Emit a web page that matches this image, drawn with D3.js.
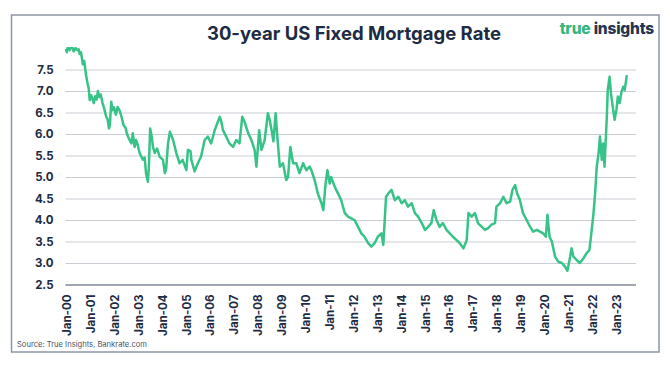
<!DOCTYPE html>
<html>
<head>
<meta charset="utf-8">
<script src="https://cdn.jsdelivr.net/npm/d3@7"></script>
<style>
  body { margin: 0; background: #fff; }
  svg { display: block; font-family: Inter, "Open Sans", sans-serif; }
</style>
</head>
<body>
<div id="chart"></div>
<script>
// readings of the 30-year fixed rate
var dates = [
  "2000-01-07","2000-01-21","2000-02-04","2000-03-03","2000-04-07","2000-05-05","2000-06-02","2000-06-30",
  "2000-07-21","2000-08-04","2000-08-25","2000-09-22","2000-10-13","2000-11-10","2000-12-01","2000-12-22",
  "2001-01-05","2001-01-26","2001-02-16","2001-03-09","2001-03-30","2001-04-20","2001-05-11","2001-06-01",
  "2001-06-22","2001-07-20","2001-08-10","2001-09-14","2001-10-05","2001-10-26","2001-11-09","2001-11-30",
  "2001-12-21","2002-01-11","2002-02-08","2002-03-08","2002-04-05","2002-05-03","2002-06-07","2002-07-05",
  "2002-08-02","2002-09-06","2002-10-04","2002-10-25","2002-11-22","2002-12-13","2003-01-03","2003-02-07",
  "2003-03-28","2003-04-25","2003-05-16","2003-06-13","2003-06-27","2003-07-18","2003-08-15","2003-08-29",
  "2003-09-26","2003-10-31","2003-12-12","2004-01-30","2004-02-27","2004-03-19","2004-04-16","2004-05-14",
  "2004-06-11","2004-07-02","2004-08-20","2004-10-08","2004-11-26","2005-01-21","2005-02-14","2005-03-25",
  "2005-04-08","2005-05-27","2005-07-15","2005-09-02","2005-10-28","2005-12-16","2006-02-03","2006-03-31",
  "2006-05-19","2006-06-16","2006-07-07","2006-08-04","2006-09-22","2006-11-10","2007-01-05","2007-02-23",
  "2007-04-13","2007-05-25","2007-06-29","2007-08-24","2007-10-12","2007-11-30","2007-12-28","2008-02-08",
  "2008-03-14","2008-05-02","2008-06-20","2008-07-18","2008-08-15","2008-09-12","2008-10-17","2008-11-07",
  "2008-12-19","2009-02-06","2009-03-27","2009-04-24","2009-05-29","2009-07-10","2009-08-28","2009-10-16",
  "2009-12-11","2010-01-29","2010-03-19","2010-04-16","2010-06-04","2010-07-23","2010-09-17","2010-10-15",
  "2010-11-19","2010-12-17","2011-01-21","2011-02-11","2011-04-08","2011-05-27","2011-07-15","2011-09-09",
  "2011-10-28","2011-12-16","2012-02-03","2012-03-30","2012-05-18","2012-07-06","2012-08-31","2012-10-19",
  "2012-12-07","2013-01-25","2013-03-22","2013-04-19","2013-05-31","2013-07-05","2013-08-23","2013-10-11",
  "2013-12-06","2014-01-24","2014-03-14","2014-05-02","2014-06-27","2014-08-15","2014-10-03","2014-11-28",
  "2015-01-16","2015-03-06","2015-04-24","2015-05-29","2015-07-10","2015-08-28","2015-10-16","2015-12-11",
  "2016-01-29","2016-03-18","2016-05-13","2016-07-01","2016-08-26","2016-10-14","2016-11-11","2016-12-30",
  "2017-02-17","2017-04-07","2017-05-26","2017-07-21","2017-09-08","2017-10-27","2017-12-22","2018-01-12",
  "2018-03-09","2018-04-27","2018-06-15","2018-08-10","2018-09-14","2018-10-26","2018-11-23","2019-01-04",
  "2019-02-22","2019-04-19","2019-06-07","2019-07-26","2019-09-20","2019-11-08","2019-12-27","2020-02-07",
  "2020-03-01","2020-04-03","2020-05-08","2020-06-26","2020-08-14","2020-10-09","2020-11-27","2021-01-01",
  "2021-02-12","2021-03-05","2021-04-02","2021-05-21","2021-07-09","2021-09-03","2021-10-22","2021-12-03",
  "2022-01-07","2022-02-04","2022-02-28","2022-03-25","2022-04-22","2022-05-13","2022-06-10","2022-07-01",
  "2022-07-22","2022-08-26","2022-09-09","2022-10-07","2022-10-28","2022-11-25","2022-12-23","2023-01-20",
  "2023-02-10","2023-03-10","2023-04-07","2023-05-05","2023-05-26","2023-06-28"
];
var rates = [
  7.98,7.90,8.02,7.95,8.05,7.92,8.00,7.95,
  7.97,7.86,7.90,7.62,7.70,7.37,7.19,7.05,
  6.79,6.90,6.82,6.72,6.88,6.80,7.00,6.86,
  6.92,6.72,6.62,6.40,6.35,6.13,6.20,6.75,
  6.55,6.62,6.45,6.63,6.55,6.42,6.20,6.15,
  5.98,5.86,5.78,6.02,5.70,5.86,5.78,5.56,
  5.40,5.45,5.09,4.89,5.20,6.13,5.90,5.70,
  5.56,5.66,5.47,5.40,5.09,5.20,5.78,6.05,
  5.95,5.86,5.56,5.32,5.40,5.16,5.63,5.60,
  5.40,5.13,5.32,5.47,5.86,5.94,5.78,6.09,
  6.29,6.40,6.30,6.09,5.94,5.78,5.70,5.86,
  5.78,6.40,6.29,6.02,5.86,5.63,5.24,6.09,
  5.63,5.86,6.48,6.33,6.09,5.83,6.48,6.02,
  5.24,5.32,4.93,5.00,5.70,5.32,5.32,5.09,
  5.32,5.16,5.24,5.16,4.93,4.62,4.39,4.23,
  4.85,5.16,4.85,5.00,4.77,4.62,4.46,4.16,
  4.08,4.04,4.00,3.84,3.69,3.61,3.46,3.38,
  3.46,3.61,3.69,3.42,4.54,4.62,4.70,4.46,
  4.54,4.39,4.46,4.31,4.39,4.16,4.08,3.93,
  3.77,3.84,3.93,4.23,4.00,3.84,3.93,3.77,
  3.69,3.61,3.53,3.46,3.34,3.53,4.16,4.08,
  4.16,3.92,3.85,3.77,3.81,3.89,3.93,4.31,
  4.39,4.54,4.39,4.43,4.70,4.81,4.62,4.47,
  4.16,4.00,3.85,3.73,3.77,3.73,3.69,3.61,
  4.12,3.61,3.50,3.15,3.03,3.00,2.91,2.82,
  3.15,3.34,3.15,3.07,3.00,3.11,3.23,3.30,
  3.77,4.16,4.62,5.24,5.55,5.94,5.40,5.78,
  5.24,6.40,7.02,7.33,6.95,6.63,6.33,6.56,
  6.87,6.72,6.98,7.10,7.02,7.37
];
var yTicks = [2.5, 3.0, 3.5, 4.0, 4.5, 5.0, 5.5, 6.0, 6.5, 7.0, 7.5];
var yearTicks = d3.range(2000, 2024);

var W = 670, H = 368;
var parse = d3.timeParse("%Y-%m-%d");
var data = dates.map(function (d, i) { return { date: parse(d), rate: rates[i] }; });

var svg = d3.select("#chart").append("svg")
    .attr("width", W)
    .attr("height", H);

svg.append("rect")
    .attr("x", 11.5).attr("y", 15)
    .attr("width", 647.5).attr("height", 337)
    .attr("fill", "#fff")
    .attr("stroke", "#8c96a6")
    .attr("stroke-width", 1.5);

var x = d3.scaleTime()
    .domain([new Date(2000, 0, 1), new Date(2023, 10, 15)])
    .range([65.5, 636]);

var y = d3.scaleLinear()
    .domain([2.5, 8])
    .range([284.5, 48]);

// gridlines + y labels
var yAxis = d3.axisLeft(y)
    .tickValues(yTicks)
    .tickSize(-(636 - 65.5))
    .tickPadding(12)
    .tickFormat(d3.format(".1f"));

var gy = svg.append("g")
    .attr("transform", "translate(65.5,0)")
    .call(yAxis);
gy.select(".domain").remove();
gy.selectAll(".tick line")
    .attr("stroke", function (d) { return d === 2.5 ? "#7f8998" : "#c9cdd4"; })
    .attr("stroke-width", function (d) { return d === 2.5 ? 1.3 : 1.1; });
gy.selectAll(".tick text")
    .attr("fill", "#1d2b43")
    .style("font-size", "11.5px")
    .style("font-weight", 700)
    .style("font-family", "Inter, sans-serif");

// x labels
var xAxis = d3.axisBottom(x)
    .tickValues(yearTicks.map(function (yr) { return new Date(yr, 0, 1); }))
    .tickSize(0)
    .tickFormat(d3.timeFormat("Jan-%y"));

var gx = svg.append("g")
    .attr("transform", "translate(1,284.5)")
    .call(xAxis);
gx.select(".domain").remove();
gx.selectAll(".tick text")
    .attr("fill", "#1d2b43")
    .attr("transform", "translate(0,10) rotate(-90)")
    .attr("x", 0)
    .attr("y", 0)
    .attr("dy", "0.35em")
    .style("text-anchor", "end")
    .style("font-size", "11.5px")
    .style("font-weight", 700)
    .style("font-family", "Inter, sans-serif");

// the line, clipped at the top of the plot
svg.append("clipPath").attr("id", "plotclip")
    .append("rect")
    .attr("x", 60).attr("y", 47)
    .attr("width", 580).attr("height", 240);

var line = d3.line()
    .x(function (d) { return x(d.date); })
    .y(function (d) { return y(d.rate); });

svg.append("path")
    .datum(data)
    .attr("clip-path", "url(#plotclip)")
    .attr("fill", "none")
    .attr("stroke", "#37c387")
    .attr("stroke-width", 2.5)
    .attr("stroke-linejoin", "round")
    .attr("d", line);

// title
svg.append("text")
    .attr("x", 354)
    .attr("y", 40)
    .attr("text-anchor", "middle")
    .attr("fill", "#1d2b43")
    .style("font-size", "18.5px")
    .style("font-weight", 700)
    .text("30-year US Fixed Mortgage Rate");

// logo
var logo = svg.append("text")
    .attr("x", 654)
    .attr("y", 34)
    .attr("text-anchor", "end")
    .style("font-size", "15.5px")
    .style("font-weight", 800)
    .style("letter-spacing", "-0.2px");
logo.append("tspan").attr("fill", "#36b57c").text("true ");
logo.append("tspan").attr("fill", "#1f3550").text("insights");

// source
svg.append("text")
    .attr("x", 17)
    .attr("y", 347)
    .attr("fill", "#4a5566")
    .style("font-size", "7.6px")
    .text("Source: True Insights, Bankrate.com");
</script>
</body>
</html>
